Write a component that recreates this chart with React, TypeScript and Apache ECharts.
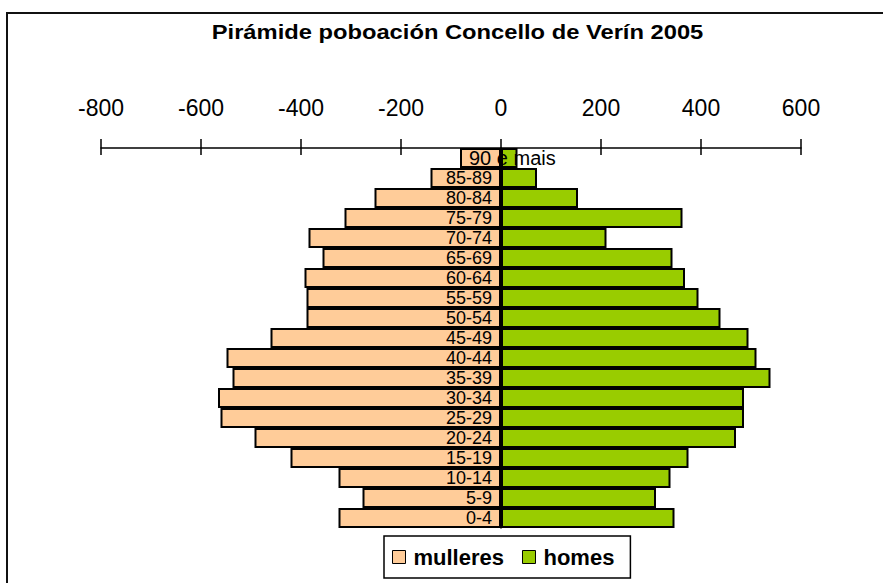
import React, { useEffect, useRef } from "react";
import * as echarts from "echarts";

const categories = ["0-4", "5-9", "10-14", "15-19", "20-24", "25-29", "30-34", "35-39", "40-44", "45-49", "50-54", "55-59", "60-64", "65-69", "70-74", "75-79", "80-84", "85-89", "90 e mais"];
const mulleres = [-325, -277, -325, -421, -493, -561, -566, -537, -549, -461, -389, -389, -393, -357, -385, -313, -253, -141, -82];
const homes = [347, 310, 339, 375, 470, 486, 486, 539, 511, 495, 439, 395, 368, 343, 211, 363, 154, 72, 33];
const xMin = -800;
const xMax = 600;
const xInterval = 200;
const titleText = "Pirámide poboación Concello de Verín 2005";
const seriesNames = ["mulleres", "homes"];

const FONT = "'Liberation Sans', Arial, Helvetica, sans-serif";

export default function App() {
  const ref = useRef<HTMLDivElement>(null);
  useEffect(() => {
    if (!ref.current) return;
    const chart = echarts.init(ref.current, null, { renderer: "svg" });
    const lastCat = categories[categories.length - 1];
    chart.setOption({
      animation: false,
      backgroundColor: "#ffffff",
      graphic: {
        elements: [
          {
            id: "frame",
            type: "rect",
            z: -10,
            silent: true,
            shape: { x: 7, y: 13, width: 1000, height: 1000 },
            style: { fill: "transparent", stroke: "#111", lineWidth: 2 },
          },
          {
            id: "title",
            type: "text",
            x: 457.5,
            y: 32,
            scaleX: 1.13,
            style: {
              text: titleText,
              fontSize: 21,
              fontWeight: "bold",
              fontFamily: FONT,
              fill: "#000",
              align: "center",
              verticalAlign: "middle",
              textAlign: "center",
              textVerticalAlign: "middle",
            },
          },
        ],
      },
      legend: {
        data: seriesNames,
        left: 384,
        top: 536,
        orient: "horizontal",
        padding: [10, 16, 10, 8],
        itemWidth: 13,
        itemHeight: 13,
        itemGap: 18,
        icon: "rect",
        borderColor: "#000",
        borderWidth: 1.5,
        itemStyle: { borderColor: "#000", borderWidth: 1 },
        textStyle: { fontSize: 22, fontWeight: "bold", color: "#000", fontFamily: FONT, padding: [0, 0, 0, 3] },
      },
      grid: { left: 101, right: 82, top: 148, bottom: 55, containLabel: false },
      xAxis: [
        {
          type: "value",
          position: "top",
          min: xMin,
          max: xMax,
          interval: xInterval,
          axisLine: { show: true, onZero: false, lineStyle: { color: "#000", width: 1.5 } },
          axisTick: { show: true, inside: false, length: 9, lineStyle: { color: "#000", width: 1.5 } },
          axisLabel: { fontSize: 23, color: "#000", fontFamily: FONT, margin: 29 },
          splitLine: { show: false },
        },
        {
          type: "value",
          position: "top",
          min: xMin,
          max: xMax,
          interval: xInterval,
          axisLine: { show: false, onZero: false },
          axisTick: { show: true, inside: true, length: 7, lineStyle: { color: "#000", width: 1.5 } },
          axisLabel: { show: false },
          splitLine: { show: false },
        },
      ],
      yAxis: {
        type: "category",
        data: categories,
        z: 10,
        position: "left",
        offset: 0,
        axisLine: { show: true, onZero: false, lineStyle: { color: "#000", width: 1.5 } },
        axisTick: { show: false },
        axisLabel: {
          interval: 0,
          fontSize: 18,
          lineHeight: 18,
          color: "#000",
          fontFamily: FONT,
          margin: 9,
          formatter: (v: string) => (v === lastCat ? "" : v),
        },
        splitLine: { show: false },
      },
      series: [
        {
          name: seriesNames[0],
          type: "bar",
          stack: "pop",
          barCategoryGap: "0%",
          data: mulleres,
          itemStyle: { color: "#FFCC99", borderColor: "#000", borderWidth: 2 },
        },
        {
          name: seriesNames[1],
          type: "bar",
          stack: "pop",
          barCategoryGap: "0%",
          data: homes,
          itemStyle: { color: "#99CC00", borderColor: "#000", borderWidth: 2 },
        },
      ],
    });
    const zeroX = chart.convertToPixel({ xAxisIndex: 0 }, 0) as number;
    const leftX = chart.convertToPixel({ xAxisIndex: 0 }, xMin) as number;
    const p = chart.convertToPixel({ gridIndex: 0 }, [0, categories.length - 1]) as number[];
    chart.setOption({
      yAxis: { offset: -(zeroX - leftX) },
      graphic: {
        elements: [
          {
            id: "lastCatLabel",
            type: "text",
            z: 100,
            x: p[0] - 32,
            y: p[1],
            style: {
              text: lastCat,
              fontSize: 20,
              lineHeight: 18,
              fontFamily: FONT,
              fill: "#000",
              align: "left",
              verticalAlign: "middle",
              textAlign: "left",
              textVerticalAlign: "middle",
            },
          },
        ],
      },
    });
    return () => chart.dispose();
  }, []);
  return (
    <div
      ref={ref}
      style={{ position: "absolute", left: 0, top: 0, width: 883, height: 583, background: "#fff" }}
    />
  );
}
